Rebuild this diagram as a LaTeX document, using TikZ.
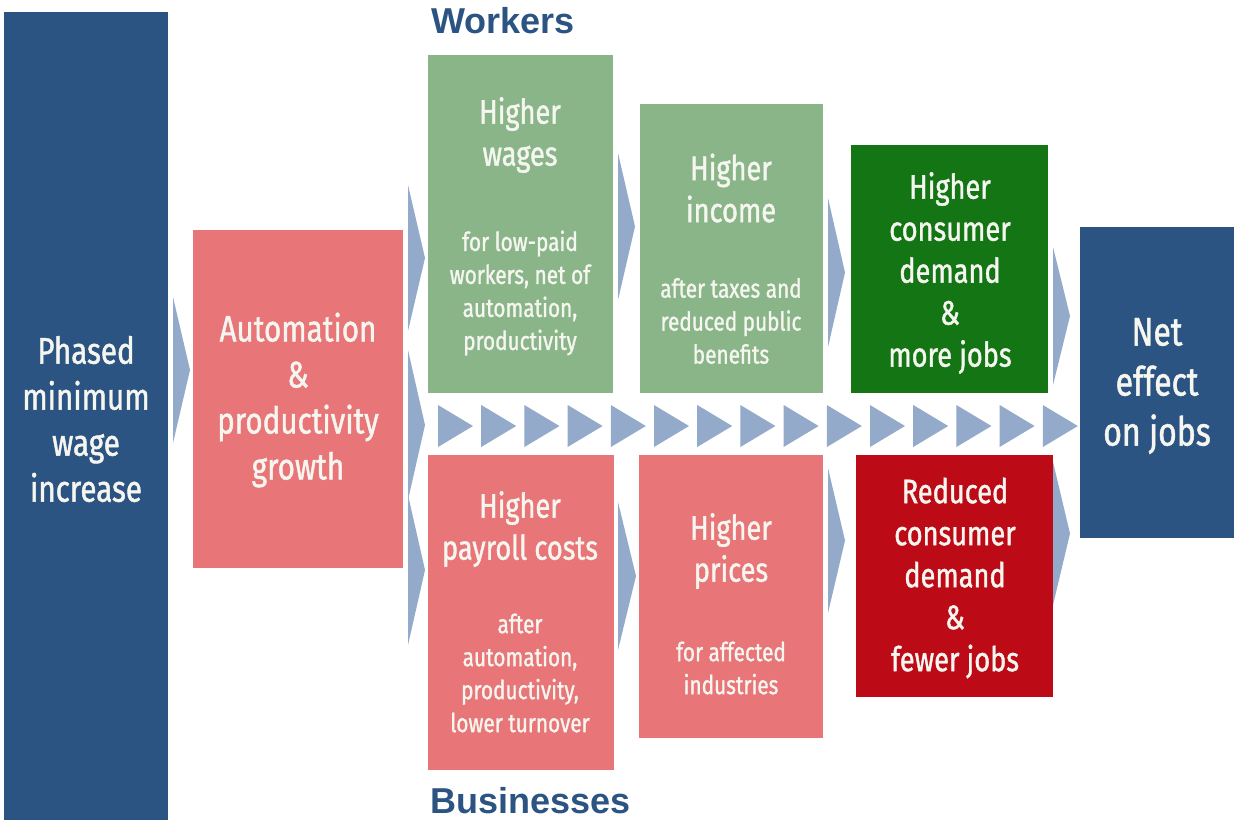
\documentclass[tikz,border=0pt]{standalone}
\usepackage{fontspec}
\setmainfont{Fira Sans}[FakeStretch=0.8, FakeBold=1.2]
\newfontfamily\headfont{Liberation Sans}
\usetikzlibrary{fit}
\definecolor{navy}{RGB}{44,84,130}
\definecolor{salmon}{RGB}{232,117,119}
\definecolor{lgreen}{RGB}{138,181,137}
\definecolor{dgreen}{RGB}{19,117,20}
\definecolor{dred}{RGB}{189,10,23}
\definecolor{chev}{RGB}{148,170,202}
\definecolor{txt}{RGB}{246,246,240}
\newcommand\chevron[4]{\fill[chev] (#1,#3) -- (#2,{(#3+#4)/2}) -- (#1,#4) -- cycle;}
\begin{document}
\begin{tikzpicture}[x=0.5pt,y=-0.5pt,
  box/.style={inner sep=0pt, outer sep=0pt, fill=#1},
  big/.style={text=txt, align=center, font=\fontsize{18.5}{23}\selectfont},
  net/.style={text=txt, align=center, font=\fontsize{20}{25}\selectfont},
  title/.style={text=txt, align=center, font=\fontsize{17}{21}\selectfont},
  sub/.style={text=txt, align=center, font=\fontsize{13}{16.5}\selectfont},
  head/.style={text=navy, anchor=base west, inner sep=0pt, font=\headfont\bfseries\fontsize{18}{20}\selectfont}]
\useasboundingbox (0,0) rectangle (1234,820);
\fill[white] (0,0) rectangle (1234,820);
% boxes
\node[box=navy, fit={(4,12) (168,820)}] (phased) {};
\node[box=salmon, fit={(193,230) (403,568)}] (auto) {};
\node[box=lgreen, fit={(428,55) (613,393)}] (wages) {};
\node[box=lgreen, fit={(640,104) (823,393)}] (income) {};
\node[box=dgreen, fit={(851,145) (1048,393)}] (demand) {};
\node[box=navy, fit={(1080,227) (1234,538)}] (net) {};
\node[box=salmon, fit={(428,455) (614,770)}] (payroll) {};
\node[box=salmon, fit={(639,455) (823,738)}] (prices) {};
\node[box=dred, fit={(856,455) (1053,697)}] (reduced) {};
% texts
\node[big] (phasedt) at (86,419) {Phased\\minimum\\wage\\increase};
\node[big] (autot) at (298,400) {Automation\\\&\\productivity\\growth};
\node[title] (wagest) at (520,135) {Higher\\wages};
\node[sub] (wagess) at (520,293) {for low-paid\\workers, net of\\automation,\\productivity};
\node[title] (incomet) at (731,188) {Higher\\income};
\node[sub] (incomes) at (731,321) {after taxes and\\reduced public\\benefits};
\node[title] (demandt) at (950,273) {Higher\\consumer\\demand\\\&\\more jobs};
\node[net] (nett) at (1157,386) {Net\\effect\\on jobs};
\node[title] (payrollt) at (520,529) {Higher\\payroll costs};
\node[sub] (payrolls) at (520,673) {after\\automation,\\productivity,\\lower turnover};
\node[title] (pricest) at (731,551) {Higher\\prices};
\node[sub] (pricess) at (731,668) {for affected\\industries};
\node[title] (reducedt) at (955,578) {Reduced\\consumer\\demand\\\&\\fewer jobs};
\node[head] (workers) at (431,33) {Workers};
\node[head] (business) at (430,813) {Businesses};
% chevrons
\chevron{173}{190}{297}{443}
\chevron{408}{425}{185}{331}
\chevron{408}{425}{350}{500}
\chevron{408}{425}{495}{645}
\chevron{618}{635}{153}{300}
\chevron{618}{636}{502}{650}
\chevron{828}{845}{198}{347}
\chevron{828}{845}{468}{613}
\chevron{1053}{1070}{247}{385}
\chevron{1053}{1070}{462}{605}
\foreach \k in {0,...,14}{
  \fill[chev] ({438+43.2*\k},405) -- ({473+43.2*\k},426) -- ({438+43.2*\k},447) -- cycle;
}
\end{tikzpicture}
\end{document}
